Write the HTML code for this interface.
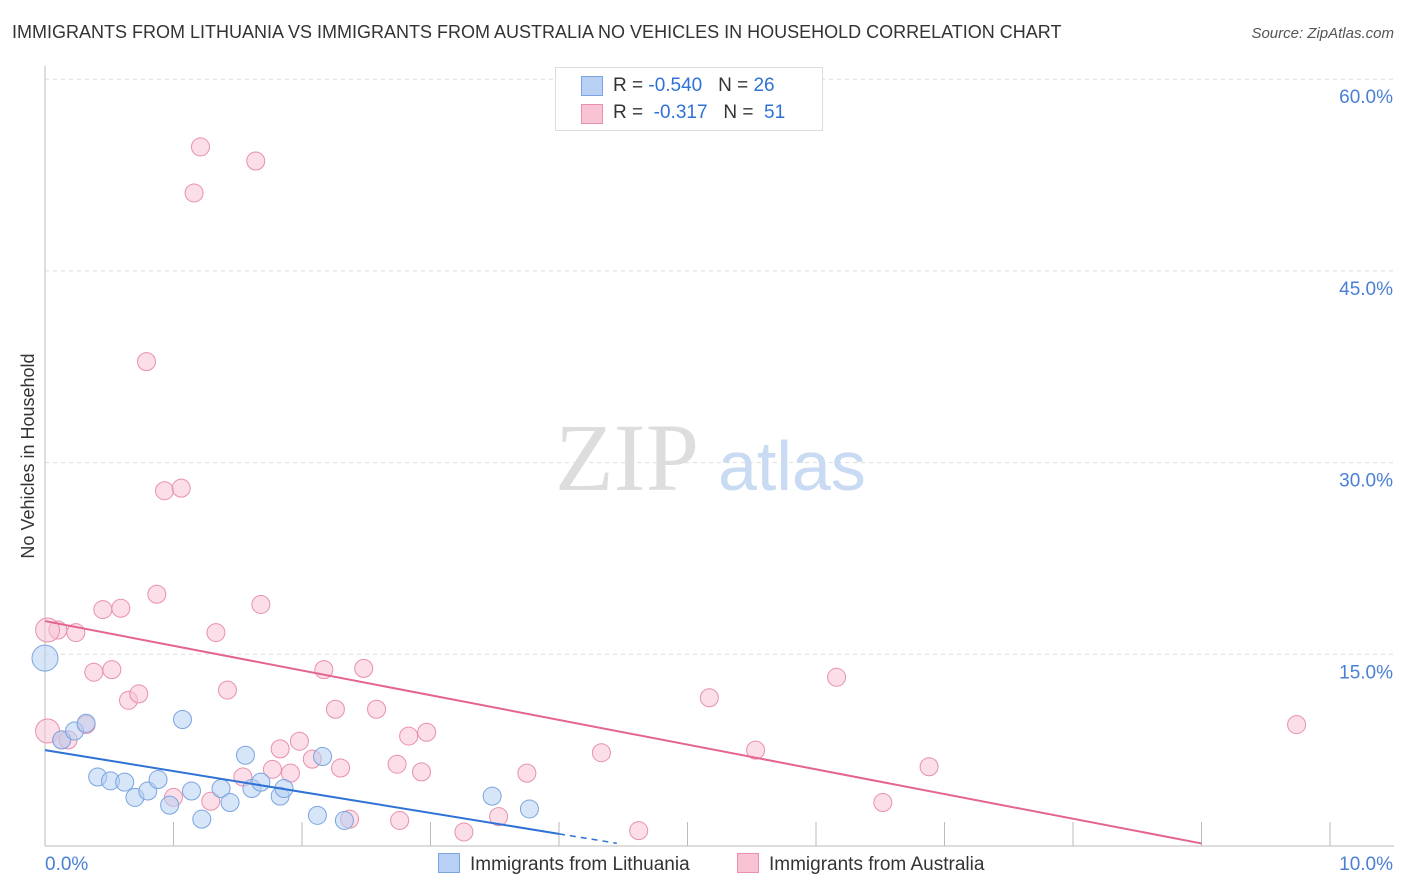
<!DOCTYPE html>
<html><head><meta charset="utf-8"><style>
body{margin:0;background:#fff;font-family:"Liberation Sans",sans-serif;}
#wrap{position:relative;width:1406px;height:892px;overflow:hidden}
.t{position:absolute;white-space:nowrap}
</style></head><body>
<div id="wrap">
<div class="t" style="left:12px;top:22px;font-size:18px;color:#333">IMMIGRANTS FROM LITHUANIA VS IMMIGRANTS FROM AUSTRALIA NO VEHICLES IN HOUSEHOLD CORRELATION CHART</div>
<div class="t" style="right:12px;top:25px;font-size:15px;color:#555;font-style:italic">Source: ZipAtlas.com</div>
<svg id="svg" width="1406" height="892" style="position:absolute;left:0;top:0"></svg>
</div>
<script>
const xTicks=[0,10];
const yTicks=[15,30,45,60];
const blueX=[0.0,0.13,0.23,0.32,0.41,0.51,0.62,0.70,0.80,0.88,0.97,1.07,1.14,1.22,1.37,1.44,1.56,1.61,1.68,1.83,1.86,2.12,2.16,2.33,3.48,3.77];
const blueY=[14.7,8.3,9.0,9.6,5.4,5.1,5.0,3.8,4.3,5.2,3.2,9.9,4.3,2.1,4.5,3.4,7.1,4.5,5.0,3.9,4.5,2.4,7.0,2.0,3.9,2.9];
const pinkX=[0.02,0.10,0.13,0.18,0.24,0.32,0.38,0.45,0.52,0.59,0.65,0.73,0.79,0.87,0.93,1.00,1.06,1.16,1.21,1.29,1.33,1.42,1.54,1.64,1.68,1.77,1.83,1.91,1.98,2.08,2.17,2.26,2.30,2.37,2.48,2.58,2.74,2.76,2.83,2.93,2.97,3.26,3.53,3.75,4.33,4.62,5.17,5.53,6.16,6.52,6.88,9.74];
const pinkY=[9.0,16.9,8.3,8.3,16.7,9.5,13.6,18.5,13.8,18.6,11.4,11.9,37.9,19.7,27.8,3.8,28.0,51.1,54.7,3.5,16.7,12.2,5.4,53.6,18.9,6.0,7.6,5.7,8.2,6.8,13.8,10.7,6.1,2.1,13.9,10.7,6.4,2.0,8.6,5.8,8.9,1.1,2.3,5.7,7.3,1.2,11.6,7.5,13.2,3.4,6.2,9.5];
const blueFit=[0,7.5,4,0.95];
const pinkFit=[0,17.6,9,0.2];
const X=v=>45+v*128.5, Y=v=>846-v*12.78;
const svg=document.getElementById('svg');const NS='http://www.w3.org/2000/svg';
function mk(t,a){const e=document.createElementNS(NS,t);for(const k in a)e.setAttribute(k,a[k]);svg.appendChild(e);return e;}
// grid
yTicks.forEach(v=>{const l=mk('line',{x1:45,x2:1394,y1:Y(v),y2:Y(v),stroke:'#ddd','stroke-dasharray':'4,4'});


const t=mk('text',{x:1393,y:Y(v)+24,'text-anchor':'end','font-size':19,fill:'#4a7fd6'});t.textContent=v.toFixed(1)+'%';

});
const ax=mk('line',{x1:45,x2:45,y1:66,y2:846,stroke:'#bbb'});


const bx=mk('line',{x1:45,x2:1394,y1:846,y2:846,stroke:'#bbb'});


for(let i=1;i<=10;i++){const l=mk('line',{x1:X(i),x2:X(i),y1:822,y2:846,stroke:'#bbb'});

}
xTicks.forEach((v,i)=>{const t=mk('text',{x:i==0?45:1393,y:870,'text-anchor':i==0?'start':'end','font-size':19,fill:'#4a7fd6'});t.textContent=v.toFixed(1)+'%';

});
const yt=mk('text',{x:34,y:456,'text-anchor':'middle','font-size':18,fill:'#333',transform:'rotate(-90 34 456)'});yt.textContent='No Vehicles in Household';


// watermark
const w=mk('text',{x:555,y:490,'font-size':96,fill:'#ddd','font-family':'Liberation Serif'});w.textContent='ZIP';


const w2=mk('text',{x:718,y:490,'font-size':70,fill:'#c9daf3'});w2.textContent='atlas';


function pts(xs,ys,fill,stroke,name){xs.forEach((x,i)=>{const r=(i==0)?(name=='blue'?13:12):9;const c=mk('circle',{cx:X(x),cy:Y(ys[i]),r:r,fill:fill,stroke:stroke,'stroke-width':1,'fill-opacity':0.55});

});}
pts(pinkX,pinkY,'#f8c3d3','#e890ad','pink');
pts(blueX,blueY,'#b7d0f3','#7aa4e0','blue');
if(true){const b=mk('circle',{cx:X(0.02),cy:Y(16.9),r:12,fill:'#f8c3d3',stroke:'#e890ad','fill-opacity':0.55});}
// fits: [x0,y0,x1(end solid),slopeless placeholder]
const bs=(7.5-0.95)/4.0;
const bl=mk('line',{x1:X(0),y1:Y(7.5),x2:X(4),y2:Y(7.5-bs*4),stroke:'#2f72d6','stroke-width':2});


const bd=mk('line',{x1:X(4),y1:Y(7.5-bs*4),x2:X(4.45),y2:Y(7.5-bs*4.45),stroke:'#2f72d6','stroke-width':1.5,'stroke-dasharray':'6,5'});


const pl=mk('line',{x1:X(0),y1:Y(17.6),x2:X(9),y2:Y(0.2),stroke:'#e4648f','stroke-width':2});


</script>
<div style="position:absolute;left:555px;top:67px;width:266px;height:62px;border:1px solid #ddd;background:#fff;font-size:19px;color:#333">
<div style="position:absolute;left:25px;top:8px;width:20px;height:18px;background:#b7d0f3;border:1px solid #7aa4e0"></div>
<div class="t" style="left:57px;top:7px">R = <span style="color:#2f72d6">-0.540</span>&nbsp;&nbsp;&nbsp;N = <span style="color:#2f72d6">26</span></div>
<div style="position:absolute;left:25px;top:36px;width:20px;height:18px;background:#f8c3d3;border:1px solid #e890ad"></div>
<div class="t" style="left:57px;top:34px">R = &nbsp;<span style="color:#2f72d6">-0.317</span>&nbsp;&nbsp;&nbsp;N = &nbsp;<span style="color:#2f72d6">51</span></div>
</div>
<div style="position:absolute;left:438px;top:853px;font-size:19px;color:#333">
<span style="display:inline-block;width:20px;height:18px;background:#b7d0f3;border:1px solid #7aa4e0;vertical-align:-3px;margin-right:10px"></span>Immigrants from Lithuania</div>
<div style="position:absolute;left:737px;top:853px;font-size:19px;color:#333">
<span style="display:inline-block;width:20px;height:18px;background:#f8c3d3;border:1px solid #e890ad;vertical-align:-3px;margin-right:10px"></span>Immigrants from Australia</div>
</body></html>
